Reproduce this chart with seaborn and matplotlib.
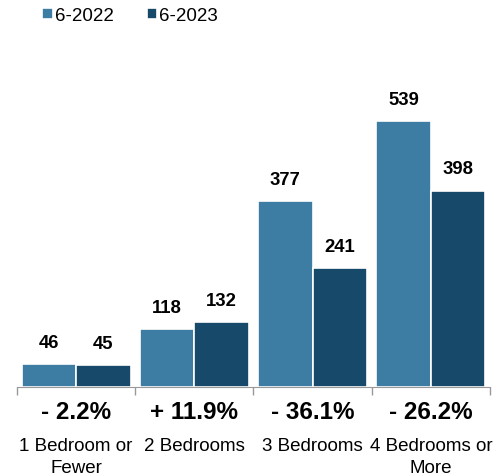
import matplotlib
matplotlib.use("Agg")
import matplotlib.pyplot as plt
import matplotlib.transforms as mtransforms
import pandas as pd
import seaborn as sns

# Данные
categories = ["1 Bedroom or\nFewer", "2 Bedrooms", "3 Bedrooms", "4 Bedrooms or\nMore"]
years = ["6-2022", "6-2023"]
values_2022 = [46, 118, 377, 539]
values_2023 = [45, 132, 241, 398]
colors = ["#3d7da3", "#174a6a"]

df = pd.DataFrame({
    "category": categories * 2,
    "year": [years[0]] * 4 + [years[1]] * 4,
    "count": values_2022 + values_2023,
})

sns.set_style("white")
plt.rcParams["font.family"] = ["Liberation Sans", "DejaVu Sans"]
plt.rcParams["text.color"] = "black"

fig = plt.figure(figsize=(4.93, 4.77), dpi=100)
ax = fig.add_axes([17 / 493, 89 / 477, 473 / 493, 298 / 477])

sns.barplot(data=df, x="category", y="count", hue="year", hue_order=years,
            palette=colors, width=0.92, edgecolor="white", linewidth=1.2,
            saturation=1, ax=ax)

ax.set_xlim(-0.5, 3.5)
ax.set_ylim(0, 604)

# Подписи значений
for cont in ax.containers:
    ax.bar_label(cont, fmt="%d", padding=9.5, fontsize=13.3, fontweight="bold",
                 color="black")

# Процент изменения и подписи категорий
trans = mtransforms.blended_transform_factory(ax.transData, ax.transAxes)
for i, (a, b) in enumerate(zip(values_2022, values_2023)):
    pct = (b - a) / a * 100
    sign = "+" if pct >= 0 else "-"
    ax.text(i, -0.082, f"{sign} {abs(pct):.1f}%", transform=trans,
            ha="center", va="center", fontsize=17.5, fontweight="bold", color="black")
    ax.text(i, -0.168, categories[i], transform=trans, ha="center", va="top",
            fontsize=13.5, linespacing=1.38, color="black")

ax.set_xticks([])
ax.set_xticks([-0.5, 0.5, 1.5, 2.5, 3.5], minor=True)
ax.tick_params(axis="x", which="minor", length=6, color="#999999", width=1, bottom=True)
ax.set_yticks([])
ax.set_xlabel("")
ax.set_ylabel("")
for s in ["top", "right", "left"]:
    ax.spines[s].set_visible(False)
ax.spines["bottom"].set_color("#999999")

handles, labels = ax.get_legend_handles_labels()
leg = ax.legend(handles, labels, loc="upper left", bbox_to_anchor=(33 / 493, 1 + 1 / 477),
                bbox_transform=fig.transFigure, ncol=2, frameon=False, fontsize=13.5,
                handlelength=0.55, handleheight=0.55, handletextpad=0.12, columnspacing=1.75,
                borderpad=0)
for t in leg.get_texts():
    t.set_color("black")

fig.savefig("out.png", dpi=100)
